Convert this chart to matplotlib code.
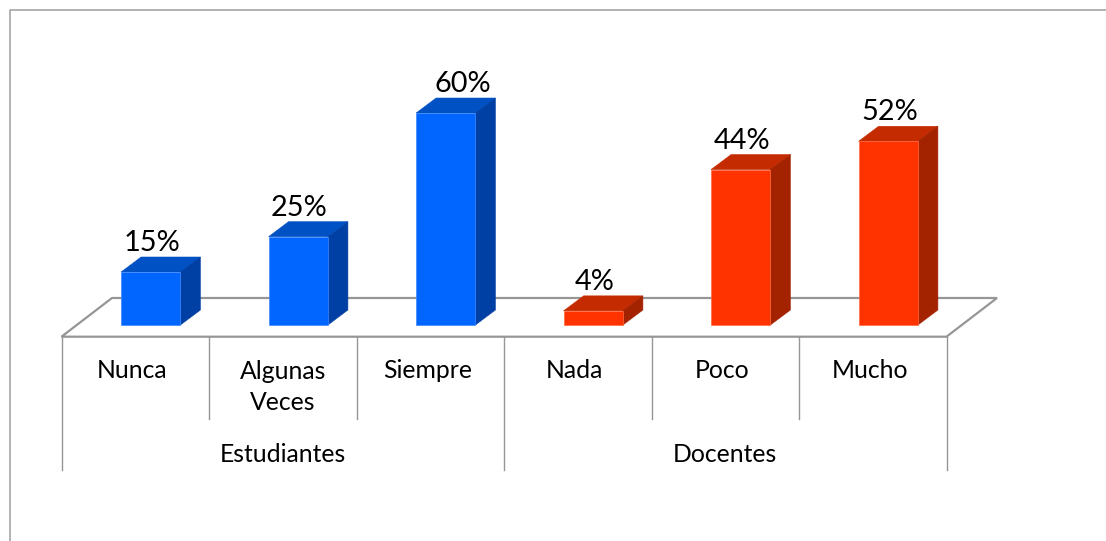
import matplotlib
matplotlib.use("Agg")
import matplotlib.pyplot as plt
from matplotlib.patches import Polygon

categories = ["Nunca", "Algunas\nVeces", "Siempre", "Nada", "Poco", "Mucho"]
groups = ["Estudiantes", "Docentes"]
group_sizes = [3, 3]
values = [15, 25, 60, 4, 44, 52]
labels = ["15%", "25%", "60%", "4%", "44%", "52%"]
label_nudge = [0, 0, 16, 0, 0, 0]
front_colors = ["#0066FF"] * 3 + ["#FF3300"] * 3
top_colors = ["#0052C4"] * 3 + ["#C42B00"] * 3
side_colors = ["#003FA3"] * 3 + ["#A32200"] * 3
edge_colors = ["#3F88FF"] * 3 + ["#FF6A40"] * 3

W, H = 1106, 541
X0, STEP = 61.5, 147.5      # pixel of the axis start and of one category
Y0, PPU = 325.0, 3.533      # pixel of value 0 and pixels per percent

plt.rcParams["font.family"] = ["Lato", "DejaVu Sans"]
fig = plt.figure(figsize=(W / 100, H / 100), dpi=100, facecolor="white")
ax = fig.add_axes([0, 0, 1, 1])
ax.set_xlim(-X0 / STEP - 0.5, (W - X0) / STEP - 0.5)
ax.set_ylim((Y0 - H) / PPU, Y0 / PPU)
ax.axis("off")

px = lambda n: n / STEP     # horizontal pixels to data units
py = lambda n: n / PPU      # vertical pixels to data units

grey = "#969696"
n = len(categories)
left, right = -0.5, n - 0.5
floor_front = py(-11.7)
floor_back = py(27)
floor_dx = px(50.5)

# chart frame
ax.plot([ax.get_xlim()[1], left - px(51.2), left - px(51.2)],
        [py(Y0 - 9.5), py(Y0 - 9.5), ax.get_ylim()[0]],
        color="#A6A6A6", lw=1.2, solid_capstyle="butt", zorder=1)

# floor
ax.add_patch(Polygon([(left, floor_front), (right, floor_front),
                      (right + floor_dx, floor_back), (left + floor_dx, floor_back)],
                     closed=True, fc="white", ec=grey, lw=1.6, joinstyle="miter", zorder=2))

# category axis dividers
ax.plot([left, left], [floor_front, py(Y0 - 470)], color=grey, lw=1.0, zorder=2)
ax.plot([right, right], [floor_front, py(Y0 - 470)], color=grey, lw=1.0, zorder=2)
for i in range(1, n):
    is_group = i == group_sizes[0]
    bottom = py(Y0 - 470) if is_group else py(Y0 - 419)
    ax.plot([i - 0.5, i - 0.5], [floor_front, bottom], color=grey, lw=1.0, zorder=2)

# bars
bar_w = 59.3 / STEP
bar_shift = px(15.5)
dx, dy = px(20), py(15)
positions = [i + bar_shift for i in range(n)]
ax.bar(positions, values, width=bar_w, color=front_colors, edgecolor=edge_colors,
       linewidth=0.5, zorder=4)
for i, v in enumerate(values):
    a, b = positions[i] - bar_w / 2, positions[i] + bar_w / 2
    ax.add_patch(Polygon([(a, v), (b, v), (b + dx, v + dy), (a + dx, v + dy)],
                         closed=True, fc=top_colors[i], ec=top_colors[i], lw=0.4, zorder=3))
    ax.add_patch(Polygon([(b, 0), (b + dx, dy), (b + dx, v + dy), (b, v)],
                         closed=True, fc=side_colors[i], ec=side_colors[i], lw=0.4, zorder=3))
    ax.text(positions[i] + px(1 + label_nudge[i]), v + py(29), labels[i], ha="center", va="center",
            fontsize=20.8, color="black", zorder=5)

# category labels
for i, c in enumerate(categories):
    if "\n" in c:
        ax.text(i, py(Y0 - 387), c, ha="center", va="center", fontsize=17.8,
                color="black", linespacing=1.45, zorder=5)
    else:
        ax.text(i - px(3), py(Y0 - 371), c, ha="center", va="center", fontsize=17.8,
                color="black", zorder=5)

# group labels
start = 0
for g, size in zip(groups, group_sizes):
    ax.text(start + (size - 1) / 2, py(Y0 - 454.5), g, ha="center", va="center",
            fontsize=17.8, color="black", zorder=5)
    start += size

fig.savefig("out.png", dpi=100, facecolor="white")
